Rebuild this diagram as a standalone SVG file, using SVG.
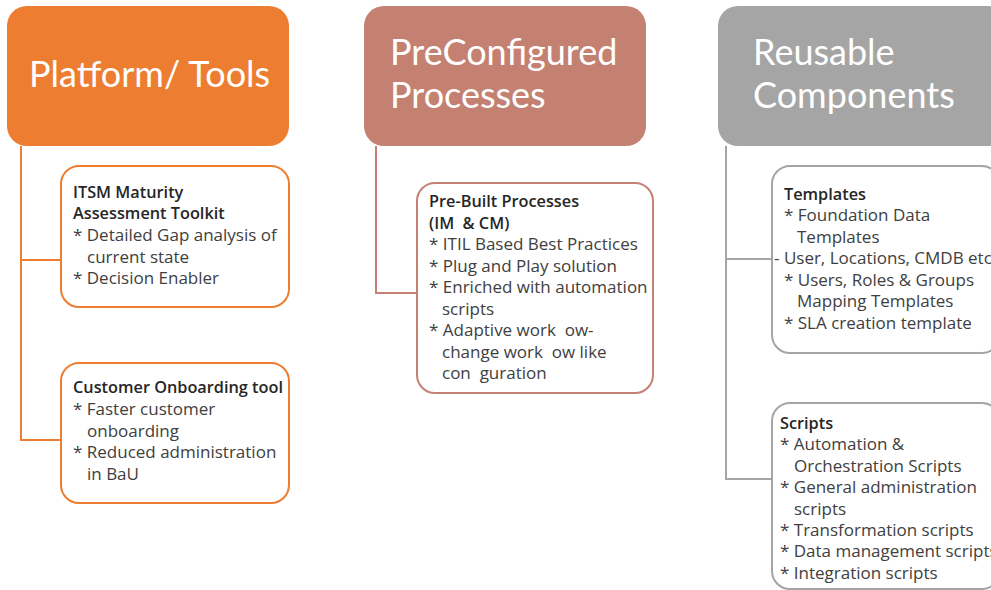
<svg xmlns="http://www.w3.org/2000/svg" width="991" height="590" viewBox="0 0 991 590">
<style>
.hdr{font-family:Lato,"Open Sans","Liberation Sans",sans-serif;font-size:36px;fill:#ffffff}
.t{font-family:"Open Sans","Liberation Sans",sans-serif;font-size:17px;fill:#404040;white-space:pre}
.b{font-weight:600;fill:#262626;font-size:16.3px}
.box{fill:#ffffff;stroke-width:2}
.conn{fill:none;stroke-width:2}
</style>
<rect width="991" height="590" fill="#ffffff"/>
<g id="connectors">
<path class="conn" stroke="#ED7D31" d="M21,146 V440 H61 M21,260 H61"/>
<path class="conn" stroke="#C48071" d="M376,146 V293 H417"/>
<path class="conn" stroke="#A5A5A5" d="M726,146 V479 H772 M726,259 H772"/>
</g>
<g id="platform">
<rect x="7" y="6" width="282" height="140" rx="20" fill="#ED7D31"/>
<text class="hdr" x="29" y="87">Platform/ Tools</text>
</g>
<g id="preconfigured">
<rect x="364" y="6" width="282" height="140" rx="20" fill="#C48071"/>
<text class="hdr" x="390" y="65">PreConfigured</text>
<text class="hdr" x="390" y="108">Processes</text>
</g>
<g id="reusable">
<rect x="718" y="6" width="290" height="140" rx="20" fill="#A5A5A5"/>
<text class="hdr" x="753" y="65">Reusable</text>
<text class="hdr" x="753" y="108">Components</text>
</g>
<g id="itsm">
<rect class="box" x="61" y="166" width="228" height="141" rx="18" stroke="#ED7D31"/>
<text class="t b" x="73" y="198">ITSM Maturity</text>
<text class="t b" x="73" y="219">Assessment Toolkit</text>
<text class="t" x="73" y="241">* Detailed Gap analysis of</text>
<text class="t" x="87" y="263">current state</text>
<text class="t" x="73" y="284">* Decision Enabler</text>
</g>
<g id="onboarding">
<rect class="box" x="61" y="363" width="228" height="140" rx="18" stroke="#ED7D31"/>
<text class="t b" x="73" y="393">Customer Onboarding tool</text>
<text class="t" x="73" y="415">* Faster customer</text>
<text class="t" x="87" y="437">onboarding</text>
<text class="t" x="73" y="458">* Reduced administration</text>
<text class="t" x="87" y="480">in BaU</text>
</g>
<g id="prebuilt">
<rect class="box" x="417" y="183" width="236" height="210" rx="18" stroke="#C48071"/>
<text class="t b" x="429" y="207">Pre-Built Processes</text>
<text class="t b" x="429" y="229">(IM  &amp; CM)</text>
<text class="t" x="429" y="250">* ITIL Based Best Practices</text>
<text class="t" x="429" y="272">* Plug and Play solution</text>
<text class="t" x="429" y="293">* Enriched with automation</text>
<text class="t" x="442" y="315">scripts</text>
<text class="t" x="429" y="336">* Adaptive work  ow-</text>
<text class="t" x="442" y="358">change work  ow like</text>
<text class="t" x="442" y="379">con  guration</text>
</g>
<g id="templates">
<rect class="box" x="772" y="166" width="228" height="187" rx="18" stroke="#A5A5A5"/>
<text class="t b" x="784" y="200">Templates</text>
<text class="t" x="784" y="221">* Foundation Data</text>
<text class="t" x="797" y="243">Templates</text>
<text class="t" x="774" y="264">- User, Locations, CMDB etc</text>
<text class="t" x="784" y="286">* Users, Roles &amp; Groups</text>
<text class="t" x="797" y="307">Mapping Templates</text>
<text class="t" x="784" y="329">* SLA creation template</text>
</g>
<g id="scripts">
<rect class="box" x="772" y="403" width="228" height="186" rx="18" stroke="#A5A5A5"/>
<text class="t b" x="780" y="429">Scripts</text>
<text class="t" x="780" y="450">* Automation &amp;</text>
<text class="t" x="794" y="472">Orchestration Scripts</text>
<text class="t" x="780" y="493">* General administration</text>
<text class="t" x="794" y="515">scripts</text>
<text class="t" x="780" y="536">* Transformation scripts</text>
<text class="t" x="780" y="557">* Data management scripts</text>
<text class="t" x="780" y="579">* Integration scripts</text>
</g>
</svg>
